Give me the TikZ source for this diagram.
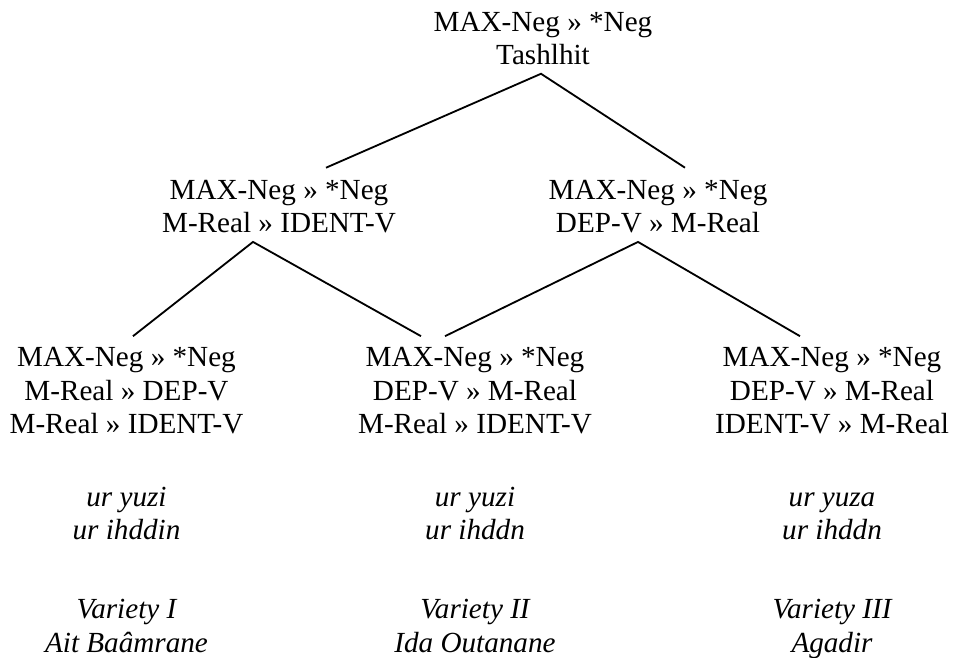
\documentclass[tikz,border=0pt]{standalone}
\usepackage{fontspec}
\setmainfont{Liberation Serif}
\usetikzlibrary{calc}
\tikzset{
  rank/.style={align=center, inner sep=0pt, anchor=base, font=\fontsize{12}{13.8}\selectfont},
  form/.style={rank, font=\fontsize{12}{13.8}\selectfont\itshape},
  branch/.style={line width=0.75pt}
}

\begin{document}
\begin{tikzpicture}[x=0.4115pt, y=-0.4115pt]
    \useasboundingbox (0,0) rectangle (957,658);

    % grammars (base = last line)
    \node[rank] (top)  at (543,65)  {MAX-Neg » *Neg\\Tashlhit};
    \node[rank] (midL) at (279,233) {MAX-Neg » *Neg\\M-Real » IDENT-V};
    \node[rank] (midR) at (658,233) {MAX-Neg » *Neg\\DEP-V » M-Real};
    \node[rank] (botL) at (126.5,434) {MAX-Neg » *Neg\\M-Real » DEP-V\\M-Real » IDENT-V};
    \node[rank] (botM) at (475,434)   {MAX-Neg » *Neg\\DEP-V » M-Real\\M-Real » IDENT-V};
    \node[rank] (botR) at (832,434)   {MAX-Neg » *Neg\\DEP-V » M-Real\\IDENT-V » M-Real};

    % forms and varieties
    \node[form] (exL) at (126.5,540) {ur yuzi\\ur ihddin};
    \node[form] (exM) at (475,540)   {ur yuzi\\ur ihddn};
    \node[form] (exR) at (832,540)   {ur yuza\\ur ihddn};
    \node[form] (varL) at (126.5,652) {Variety I\\Ait Baâmrane};
    \node[form] (varM) at (475,652)   {Variety II\\Ida Outanane};
    \node[form] (varR) at (832,652)   {Variety III\\Agadir};

    \draw[branch] ($(midL.north)+(47,-12)$) -- ($(top.south)+(-2,8)$) -- ($(midR.north)+(27,-12)$);
    \draw[branch] ($(botL.north)+(6.5,-11)$) -- ($(midL.south)+(-26,8)$) -- ($(botM.north)+(-54,-11)$);
    \draw[branch] ($(botM.north)+(-30,-11)$) -- ($(midR.south)+(-20,8)$) -- ($(botR.north)+(-32,-11)$);
\end{tikzpicture}
\end{document}
